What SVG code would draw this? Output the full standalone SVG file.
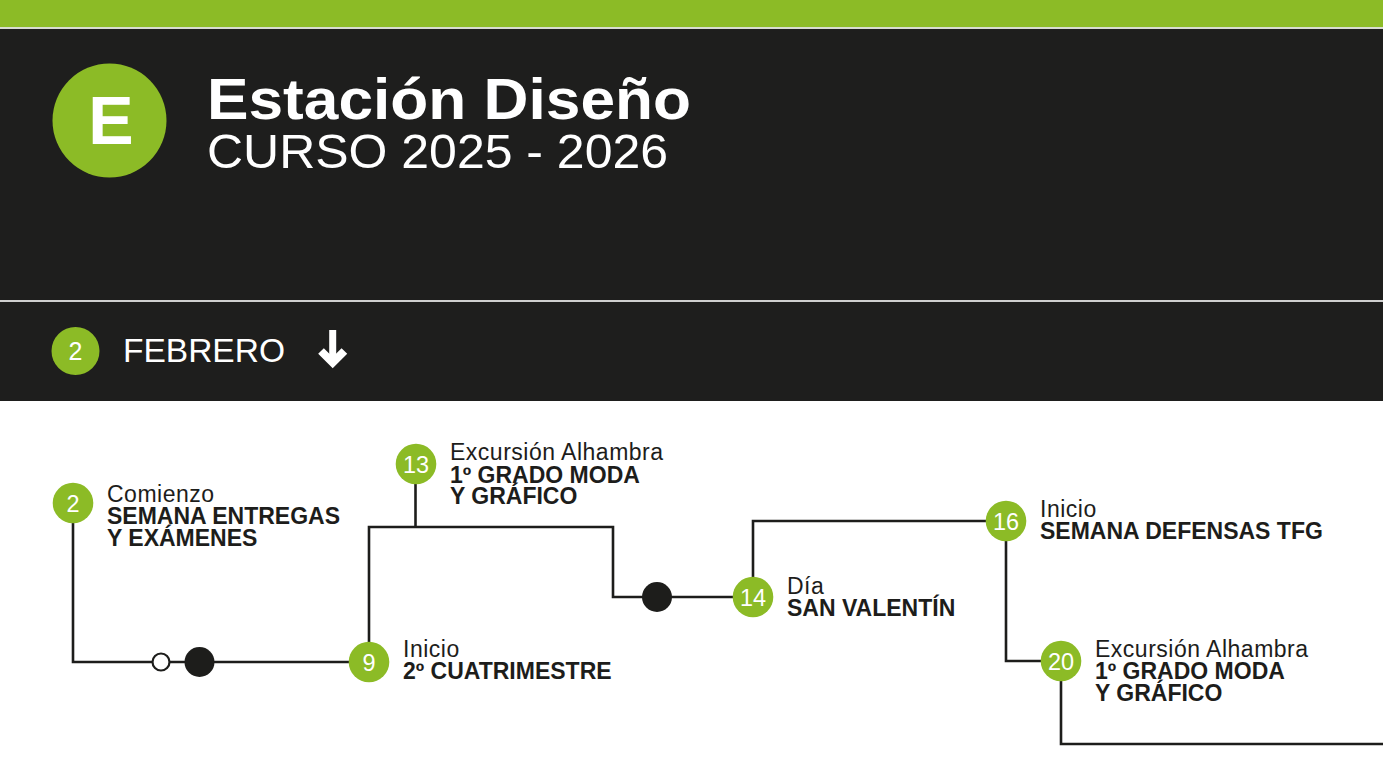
<svg xmlns="http://www.w3.org/2000/svg" width="1383" height="776" viewBox="0 0 1383 776">
<style>
.g{fill:#8cbb26}
.num{font-family:"Liberation Sans",Arial,sans-serif;font-size:23.5px;fill:#ffffff;text-anchor:middle}
.lt{font-family:"Liberation Sans",Arial,sans-serif;font-size:23px;letter-spacing:0.5px;fill:#1d1d1b}
.lb{font-family:"Liberation Sans",Arial,sans-serif;font-size:23px;font-weight:bold;fill:#1d1d1b}
.wire{fill:none;stroke:#1d1d1b;stroke-width:2.6}
</style>
<rect x="0" y="0" width="1383" height="776" fill="#ffffff"/>
<!-- header -->
<g id="header">
<rect x="0" y="0" width="1383" height="27" class="g"/>
<rect x="0" y="27" width="1383" height="2" fill="#d9dccf"/>
<rect x="0" y="29" width="1383" height="372" fill="#1e1e1d"/>
<rect x="0" y="300" width="1383" height="2" fill="#cfcfcf"/>
<circle cx="109.5" cy="120.5" r="57" class="g"/>
<text x="111" y="144" font-family="Liberation Sans, Arial, sans-serif" font-size="68" font-weight="bold" fill="#ffffff" text-anchor="middle">E</text>
<text x="207" y="119" font-family="Liberation Sans, Arial, sans-serif" font-size="58" font-weight="bold" fill="#ffffff" textLength="484" lengthAdjust="spacingAndGlyphs">Estación Diseño</text>
<text x="207" y="168" font-family="Liberation Sans, Arial, sans-serif" font-size="48" fill="#ffffff" textLength="461" lengthAdjust="spacingAndGlyphs">CURSO 2025 - 2026</text>
</g>
<g id="month">
<circle cx="75.5" cy="351" r="24" class="g"/>
<text x="75.5" y="360" font-family="Liberation Sans, Arial, sans-serif" font-size="25" fill="#ffffff" text-anchor="middle">2</text>
<text x="123" y="362" font-family="Liberation Sans, Arial, sans-serif" font-size="33.5" fill="#ffffff">FEBRERO</text>
<path d="M332.7 330 V360" stroke="#ffffff" stroke-width="7" fill="none"/>
<path d="M321 351 L332.7 362.7 L344.4 351" stroke="#ffffff" stroke-width="8" fill="none" stroke-linejoin="miter"/>
</g>
<!-- connectors -->
<g id="connectors">
<path class="wire" d="M73 503 V662 H369 V527 H613 V597 H753 V521 H1006 V661 H1061 V744 H1383"/>
<path class="wire" d="M415.5 464 V527"/>
<circle cx="161" cy="662" r="8.5" fill="#ffffff" stroke="#1d1d1b" stroke-width="2.2"/>
<circle cx="199.5" cy="662" r="15" fill="#1d1d1b"/>
<circle cx="657" cy="597" r="15" fill="#1d1d1b"/>
</g>
<!-- nodes -->
<g id="node-2">
<circle cx="73" cy="503" r="20.3" class="g"/>
<text x="73" y="511.5" class="num">2</text>
<text x="107" y="501.5" class="lt">Comienzo</text>
<text x="107" y="523.5" class="lb">SEMANA ENTREGAS</text>
<text x="107" y="545.5" class="lb">Y EXÁMENES</text>
</g>
<g id="node-9">
<circle cx="369" cy="662" r="20.3" class="g"/>
<text x="369" y="670.5" class="num">9</text>
<text x="403" y="657" class="lt">Inicio</text>
<text x="403" y="679" class="lb">2º CUATRIMESTRE</text>
</g>
<g id="node-13">
<circle cx="416" cy="464" r="20.3" class="g"/>
<text x="416" y="472.5" class="num">13</text>
<text x="450" y="460" class="lt">Excursión Alhambra</text>
<text x="450" y="482.5" class="lb">1º GRADO MODA</text>
<text x="450" y="504" class="lb">Y GRÁFICO</text>
</g>
<g id="node-14">
<circle cx="753" cy="597" r="20.3" class="g"/>
<text x="753" y="605.5" class="num">14</text>
<text x="787" y="594" class="lt">Día</text>
<text x="787" y="616" class="lb">SAN VALENTÍN</text>
</g>
<g id="node-16">
<circle cx="1006" cy="521" r="20.3" class="g"/>
<text x="1006" y="529.5" class="num">16</text>
<text x="1040" y="517" class="lt">Inicio</text>
<text x="1040" y="539" class="lb">SEMANA DEFENSAS TFG</text>
</g>
<g id="node-20">
<circle cx="1061" cy="661" r="20.3" class="g"/>
<text x="1061" y="669.5" class="num">20</text>
<text x="1095" y="657" class="lt">Excursión Alhambra</text>
<text x="1095" y="679" class="lb">1º GRADO MODA</text>
<text x="1095" y="701" class="lb">Y GRÁFICO</text>
</g>
</svg>
